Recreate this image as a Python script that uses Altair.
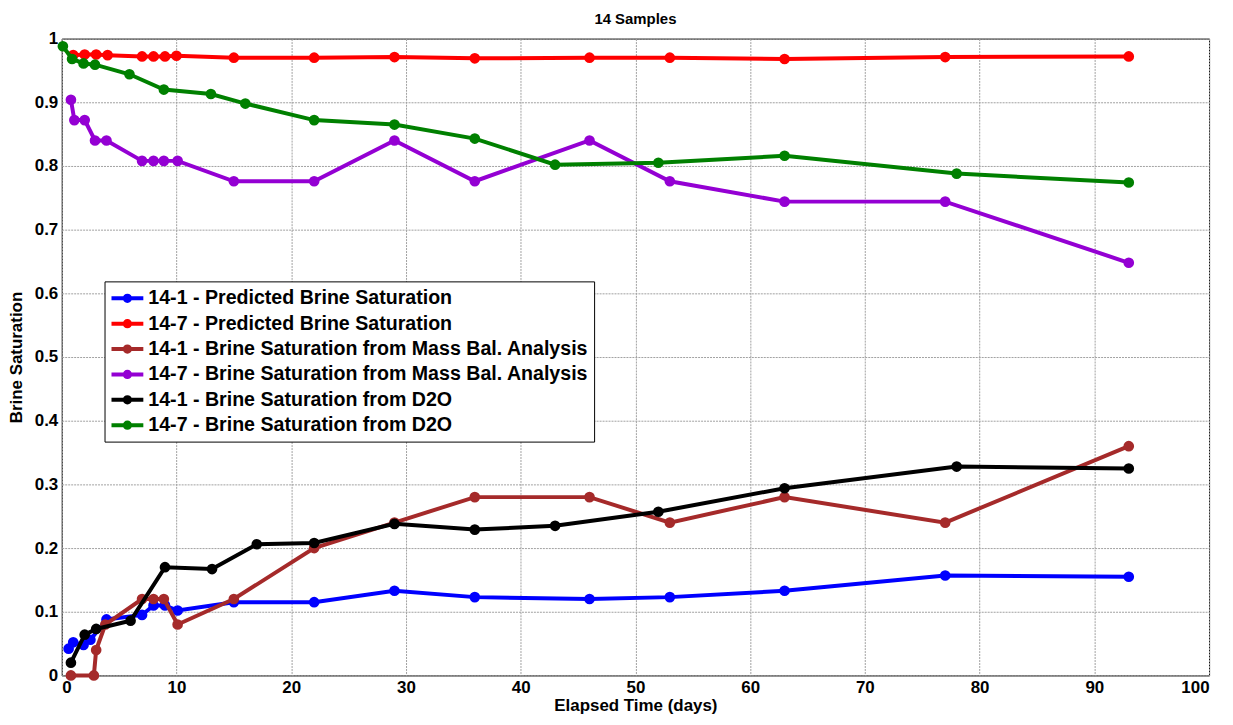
import altair as alt
import pandas as pd

series_names = [
    "14-1 - Predicted Brine Saturation",
    "14-7 - Predicted Brine Saturation",
    "14-1 - Brine Saturation from Mass Bal. Analysis",
    "14-7 - Brine Saturation from Mass Bal. Analysis",
    "14-1 - Brine Saturation from D2O",
    "14-7 - Brine Saturation from D2O",
]
series_colors = ["#0000FF", "#FF0000", "#A52A2A", "#9400D3", "#000000", "#008000"]

blue_x = [0.6, 1.0, 1.9, 2.5, 3.9, 7.0, 8.0, 9.0, 10.1, 15, 22, 29, 36, 46, 53, 63, 77, 93]
blue_y = [0.042, 0.052, 0.048, 0.056, 0.088, 0.095, 0.11, 0.11, 0.102, 0.115, 0.115, 0.133,
          0.123, 0.12, 0.123, 0.133, 0.157, 0.155]

red_x = [1, 2, 3, 4, 7, 8, 9, 10, 15, 22, 29, 36, 46, 53, 63, 77, 93]
red_y = [0.974, 0.975, 0.975, 0.974, 0.972, 0.972, 0.972, 0.973, 0.970, 0.970, 0.971, 0.969,
         0.970, 0.970, 0.968, 0.971, 0.972]

brown_x = [0.8, 2.8, 3.0, 3.8, 7.0, 8.0, 8.9, 10.1, 15, 22, 29, 36, 46, 53, 63, 77, 93]
brown_y = [0.0, 0.0, 0.04, 0.08, 0.12, 0.12, 0.12, 0.08, 0.12, 0.2, 0.24, 0.28, 0.28, 0.24,
           0.28, 0.24, 0.36]

purple_x = [0.8, 1.1, 2.0, 2.9, 3.9, 7.0, 8.0, 8.9, 10.1, 15, 22, 29, 36, 46, 53, 63, 77, 93]
purple_y = [0.904, 0.872, 0.872, 0.84, 0.84, 0.808, 0.808, 0.808, 0.808, 0.776, 0.776, 0.84,
            0.776, 0.84, 0.776, 0.744, 0.744, 0.648]

black_x = [0.8, 2.0, 3.0, 6.0, 9.0, 13.1, 17, 22, 29, 36, 43, 52, 63, 78, 93]
black_y = [0.02, 0.064, 0.073, 0.086, 0.17, 0.167, 0.206, 0.208, 0.238, 0.229, 0.235, 0.257,
           0.294, 0.328, 0.325]

green_x = [0.1, 0.9, 1.9, 2.9, 5.9, 8.9, 13, 16, 22, 29, 36, 43, 52, 63, 78, 93]
green_y = [0.988, 0.968, 0.961, 0.959, 0.944, 0.92, 0.913, 0.898, 0.872, 0.865, 0.843, 0.802,
           0.805, 0.816, 0.788, 0.774]

x_ticks = [0, 10, 20, 30, 40, 50, 60, 70, 80, 90, 100]
y_ticks = [0, 0.1, 0.2, 0.3, 0.4, 0.5, 0.6, 0.7, 0.8, 0.9, 1]

all_x = [blue_x, red_x, brown_x, purple_x, black_x, green_x]
all_y = [blue_y, red_y, brown_y, purple_y, black_y, green_y]

rows = []
for name, xs, ys in zip(series_names, all_x, all_y):
    for i, (xv, yv) in enumerate(zip(xs, ys)):
        rows.append({"series": name, "days": xv, "sat": yv, "idx": i})
df = pd.DataFrame(rows)

FONT = "Liberation Sans"
W, H = 1153, 640

x_enc = alt.X(
    "days:Q",
    scale=alt.Scale(domain=[0, 100], nice=False, zero=False),
    axis=alt.Axis(values=x_ticks, title="Elapsed Time (days)", labelPadding=4,
                  titleX=W / 2, titleY=30, titleBaseline="middle", titleAlign="center"),
)
y_enc = alt.Y(
    "sat:Q",
    scale=alt.Scale(domain=[0, 1], nice=False),
    axis=alt.Axis(values=y_ticks, format="~g", title="Brine Saturation", labelPadding=4,
                  titleX=-45, titleY=H / 2, titleAngle=-90, titleBaseline="middle",
                  titleAlign="center"),
)

color_scale = alt.Scale(domain=series_names, range=series_colors)

SYMBOL = "M-1.6,0L1.6,0M0.27,0A0.27,0.27,0,1,1,-0.27,0A0.27,0.27,0,1,1,0.27,0Z"

legend = alt.Legend(
    title=None, orient="none", legendX=43, legendY=244, direction="vertical",
    fillColor="white", strokeColor="black", padding=5, cornerRadius=0,
    symbolType=SYMBOL, symbolSize=400, symbolStrokeWidth=4, symbolOffset=6,
    labelOffset=9, rowPadding=2.5, labelFontSize=19.7, labelFont=FONT,
    labelFontWeight="bold", labelColor="black", labelLimit=700,
)

layers = []
for name in series_names:
    base = alt.Chart(df).transform_filter(alt.datum.series == name)
    line = base.mark_line(strokeWidth=4).encode(
        x=x_enc, y=y_enc,
        stroke=alt.Stroke("series:N", scale=color_scale, legend=legend),
        order="idx:Q",
    )
    pts = base.mark_point(filled=True, size=115, opacity=1).encode(
        x=x_enc, y=y_enc,
        fill=alt.Fill("series:N", scale=color_scale, legend=None),
    )
    layers += [line, pts]

chart = alt.layer(*layers).properties(
    width=W, height=H,
    autosize=alt.AutoSizeParams(type="none"),
    padding={"left": 54, "top": 29, "right": 16, "bottom": 37},
    title=alt.TitleParams("14 Samples", fontSize=15, fontWeight="bold", font=FONT,
                          color="black", offset=3, anchor="middle"),
).configure_view(
    stroke="black", strokeWidth=1
).configure_axis(
    domain=False, ticks=False, grid=True, gridColor="#a0a0a0", gridDash=[2, 1],
    gridWidth=1, labelFont=FONT, labelFontSize=17, labelFontWeight="bold",
    labelColor="black", titleFont=FONT, titleFontSize=17, titleFontWeight="bold",
    titleColor="black",
)

chart.save("out.html", embed_options={"renderer": "svg", "actions": False})
